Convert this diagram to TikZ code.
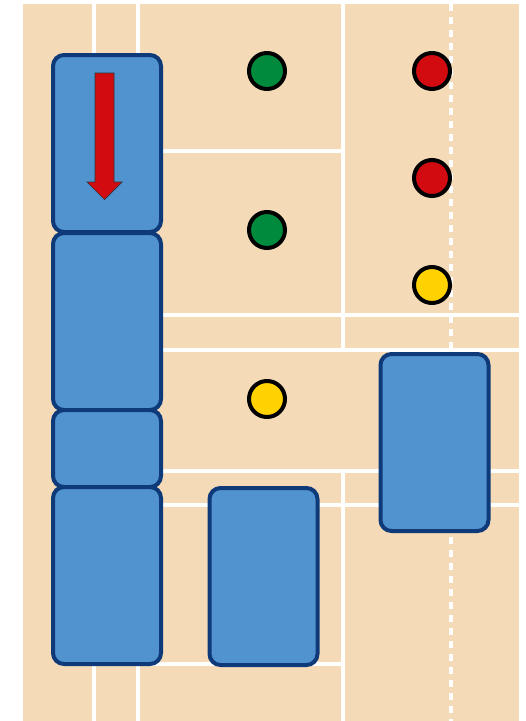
\documentclass[tikz,border=0pt]{standalone}
\definecolor{tan}{HTML}{F4DAB7}
\definecolor{boxfill}{HTML}{5193CE}
\definecolor{boxline}{HTML}{0E3A7A}
\definecolor{dotred}{HTML}{D20B11}
\definecolor{dotgreen}{HTML}{008A3E}
\definecolor{dotyellow}{HTML}{FFD200}
\tikzset{
  court/.style={white, line width=4pt},
  car/.style={draw=boxline, fill=boxfill, line width=4pt, rounded corners=11pt, minimum width=108pt, inner sep=0pt},
  tallcar/.style={car, minimum height=177pt},
  shortcar/.style={car, minimum height=77pt},
  dot/.style={circle, draw=black, line width=4pt, minimum size=36pt, inner sep=0pt},
}
\begin{document}
\begin{tikzpicture}[x=1pt,y=-1pt]
\useasboundingbox (0,0) rectangle (526,721);
\fill[tan] (23,4) rectangle (519,721);
% white lines
\draw[court] (94,4) -- (94,721);
\draw[court] (138,4) -- (138,721);
\draw[court] (138,151) -- (343,151);
\draw[court] (343,4) -- (343,350);
\draw[court] (138,315) -- (519,315);
\draw[court] (138,350) -- (519,350);
\draw[court] (138,471) -- (519,471);
\draw[court] (138,505) -- (519,505);
\draw[court] (343,471) -- (343,721);
\draw[court] (138,664) -- (343,664);
\draw[court, dash pattern=on 7pt off 6pt] (451,4) -- (451,721);
% boxes
\node[tallcar] (b1) at (107,143.5) {};
\node[tallcar] (b2) at (107,321.5) {};
\node[shortcar] (b3) at (107,448.5) {};
\node[tallcar] (b4) at (107,575.5) {};
\node[tallcar] (b5) at (263.5,576.5) {};
\node[tallcar] (b6) at (434.5,442.5) {};
% arrow
\draw[fill=dotred, draw=black!80, line width=0.7pt]
  (95,73) -- (114,73) -- (114,182) -- (122,182) -- (104.5,199.5) -- (87,182) -- (95,182) -- cycle;
% dots
\node[dot, fill=dotgreen] (g1) at (267,71) {};
\node[dot, fill=dotgreen] (g2) at (267,230) {};
\node[dot, fill=dotyellow] (y1) at (267,399) {};
\node[dot, fill=dotred] (r1) at (432,71) {};
\node[dot, fill=dotred] (r2) at (432,178) {};
\node[dot, fill=dotyellow] (y2) at (432,285) {};
\end{tikzpicture}
\end{document}
